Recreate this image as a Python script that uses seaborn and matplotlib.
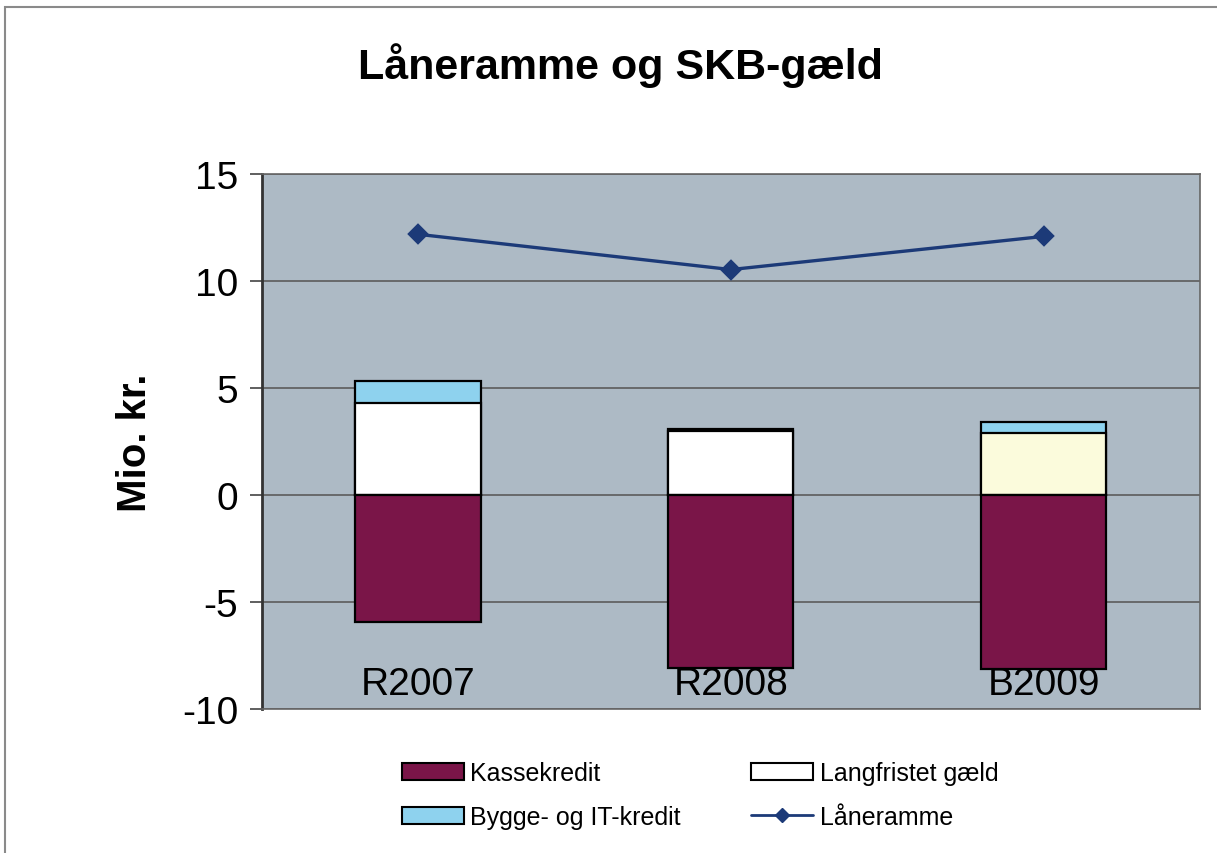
import matplotlib
matplotlib.use("Agg")
import matplotlib.pyplot as plt
import seaborn as sns
import numpy as np
import pandas as pd
from matplotlib.patches import Patch, Rectangle
from matplotlib.lines import Line2D

# values (mio. kr.)
categories = ["R2007", "R2008", "B2009"]
kassekredit = [-5.95, -8.1, -8.15]
langfristet = [4.3, 3.0, 2.9]
bygge_it = [1.05, 0.1, 0.5]
laaneramme = [12.2, 10.55, 12.1]

df = pd.DataFrame({
    "aar": categories,
    "kasse": kassekredit,
    "lang": langfristet,
    "top": np.array(langfristet) + np.array(bygge_it),
    "ramme": laaneramme,
})

sns.set_theme(style="white", rc={"text.color": "black", "axes.labelcolor": "black",
                                 "xtick.color": "black", "ytick.color": "black",
                                 "axes.unicode_minus": False})
plt.rcParams["font.family"] = ["Liberation Sans", "DejaVu Sans"]

fig = plt.figure(figsize=(12.17, 8.54), dpi=100)
ax = fig.add_axes([0.215, 0.1686, 0.771, 0.626])
ax.set_facecolor("#adbac5")

bar_kw = dict(width=0.4, edgecolor="black", linewidth=1.6, zorder=2, saturation=1)

# stacked positives: draw total first, then the lower segment on top of it
sns.barplot(data=df, x="aar", y="top", color="#8ed2ee", ax=ax, **bar_kw)
sns.barplot(data=df, x="aar", y="lang", hue="aar",
            palette=["white", "white", "#fbfbdc"], legend=False, ax=ax, **bar_kw)
sns.barplot(data=df, x="aar", y="kasse", color="#7a1548", ax=ax, **bar_kw)

sns.pointplot(data=df, x="aar", y="ramme", color="#1c3a78", markers="D",
              errorbar=None, ax=ax, markersize=9, linewidth=2.4, zorder=4)

ax.set_ylim(-10, 15)
ax.set_xlim(-0.5, 2.5)
ax.set_yticks([-10, -5, 0, 5, 10, 15])
ax.yaxis.grid(True, color="#5c5c5c", linewidth=1.2, zorder=0)
ax.set_axisbelow(True)
ax.set_xlabel("")
ax.set_ylabel("Mio. kr.", fontsize=29, fontweight="bold", labelpad=20)

ax.tick_params(axis="y", labelsize=28, length=9, width=1.2, color="#444444",
               left=True, pad=8)
ax.tick_params(axis="x", labelsize=28, length=0, pad=-31, bottom=True)
for lab in ax.get_xticklabels():
    lab.set_zorder(5)

for s in ax.spines.values():
    s.set_color("#666666")
    s.set_linewidth(1.2)
ax.spines["left"].set_color("#333333")
ax.spines["left"].set_linewidth(2)

fig.text(0.51, 0.923, "Låneramme og SKB-gæld", ha="center", va="center",
         fontsize=31, fontweight="bold")

# outer chart frame (top and left edges visible)
fig.patches.append(Rectangle((5 / 1217, -0.1), 1.2, 1.1 - 8 / 854,
                             transform=fig.transFigure, fill=False,
                             edgecolor="#8a8a8a", linewidth=1.5))

handles = [
    Patch(facecolor="#7a1548", edgecolor="black", linewidth=1.5, label="Kassekredit"),
    Patch(facecolor="#8ed2ee", edgecolor="black", linewidth=1.5, label="Bygge- og IT-kredit"),
    Patch(facecolor="white", edgecolor="black", linewidth=1.5, label="Langfristet gæld"),
    Line2D([0], [0], color="#1c3a78", marker="D", markersize=7, linewidth=2,
           label="Låneramme"),
]
fig.legend(handles=handles, ncol=2, loc="center",
           bbox_to_anchor=(700 / 1217, 1 - 796 / 854), frameon=False,
           fontsize=18, handlelength=2.5, handleheight=0.65,
           columnspacing=2.8, labelspacing=0.8, handletextpad=0.25)

fig.savefig("out.png", dpi=100, facecolor="white")
